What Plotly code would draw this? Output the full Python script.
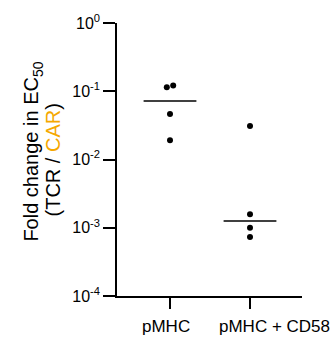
import plotly.graph_objects as go

categories = ["pMHC", "pMHC + CD58"]
# per-point values (fold change in EC50) and small horizontal jitter
pmhc_values = [0.114, 0.121, 0.0464, 0.0192]
pmhc_jitter = [-0.04, 0.04, 0.0, 0.0]
cd58_values = [0.0309, 0.00158, 0.000998, 0.000732]
cd58_jitter = [0.0, 0.0, 0.0, 0.0]
median_values = [0.072, 0.00126]
y_tickvals = [1e-4, 1e-3, 1e-2, 1e-1, 1]
y_ticktext = ["10<sup>-4</sup>", "10<sup>-3</sup>", "10<sup>-2</sup>", "10<sup>-1</sup>", "10<sup>0</sup>"]
# category label positions (labels sit slightly off their ticks in the reference)
label_x = [-0.05, 1.30]

FONT = "Liberation Sans, Arial, sans-serif"
ORANGE = "#F5A800"

fig = go.Figure()
groups = [(pmhc_values, pmhc_jitter), (cd58_values, cd58_jitter)]
for i, (vals, jit) in enumerate(groups):
    fig.add_trace(go.Scatter(
        x=[i + j for j in jit], y=vals, mode="markers",
        marker=dict(color="black", size=6),
        showlegend=False, hoverinfo="skip"))
    fig.add_trace(go.Scatter(
        x=[i - 0.33, i + 0.33], y=[median_values[i]] * 2, mode="lines",
        line=dict(color="black", width=1.5),
        showlegend=False, hoverinfo="skip"))

annotations = []
for lx, name in zip(label_x, categories):
    annotations.append(dict(
        x=lx, xref="x", y=-0.111, yref="paper", text=name, showarrow=False,
        xanchor="center", yanchor="middle", font=dict(size=17, family=FONT, color="black")))

annotations.append(dict(
    x=-0.454, xref="paper", y=0.529, yref="paper", textangle=-90,
    text="Fold change in EC<sub>50</sub>", showarrow=False,
    xanchor="center", yanchor="middle", font=dict(size=20, family=FONT, color="black")))
annotations.append(dict(
    x=-0.346, xref="paper", y=0.5, yref="paper", textangle=-90,
    text="(TCR / <span style='color:" + ORANGE + "'>CAR</span>)", showarrow=False,
    xanchor="center", yanchor="middle", font=dict(size=20, family=FONT, color="black")))

fig.update_layout(
    width=333, height=340,
    margin=dict(l=117, r=31, t=17, b=44),
    plot_bgcolor="white", paper_bgcolor="white",
    font=dict(family=FONT, size=16, color="black"),
    annotations=annotations,
    xaxis=dict(
        range=[-0.6625, 1.65], tickmode="array", tickvals=[0, 1], ticktext=["", ""],
        showline=True, linecolor="black", linewidth=1.5,
        ticks="outside", ticklen=11, tickwidth=1.5, tickcolor="black",
        showgrid=False, zeroline=False),
    yaxis=dict(
        type="log", range=[-4, 0], tickmode="array",
        tickvals=y_tickvals, ticktext=y_ticktext,
        showline=True, linecolor="black", linewidth=1.5,
        ticks="outside", ticklen=12, tickwidth=1.5, tickcolor="black",
        showgrid=False, zeroline=False, tickfont=dict(size=16)),
)

fig.write_html("out.html")
